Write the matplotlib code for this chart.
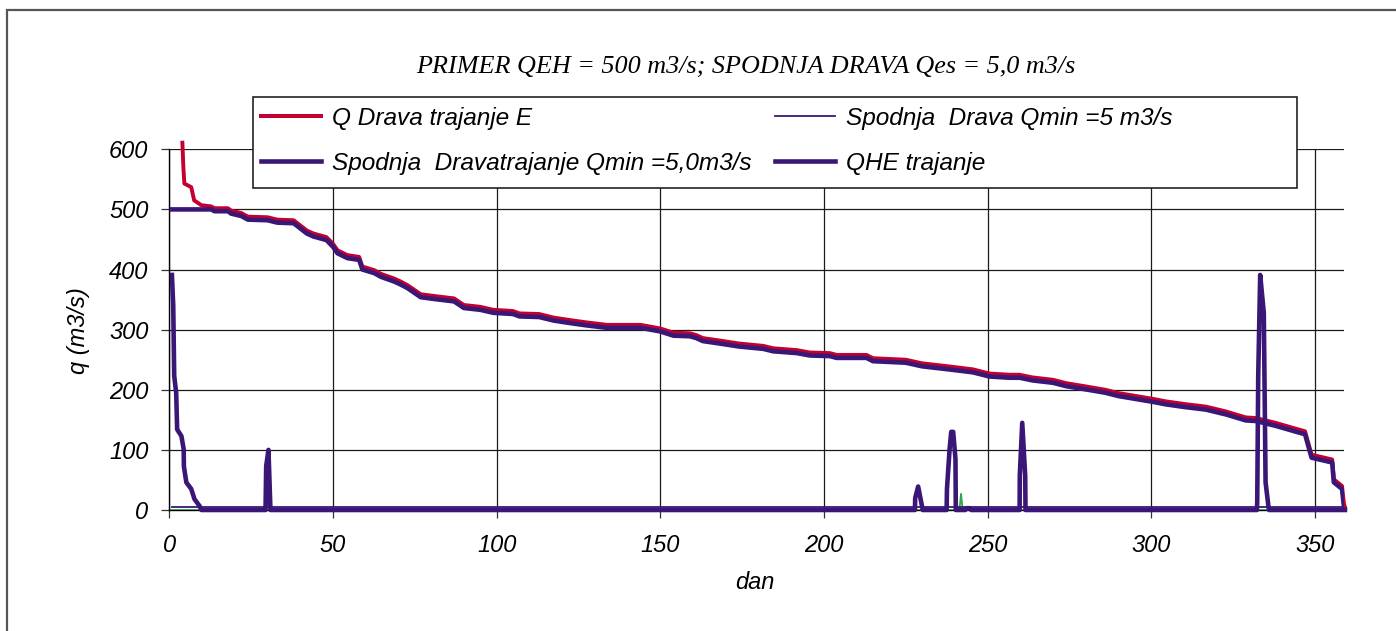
import matplotlib
matplotlib.use("Agg")
import matplotlib.pyplot as plt
from matplotlib.lines import Line2D
from matplotlib.patches import Rectangle
import numpy as np

# ---------------- data ----------------
title = "PRIMER QEH = 500 m3/s; SPODNJA DRAVA Qes = 5,0 m3/s"
QEH = 500.0
QMIN = 5.0

# Q Drava trajanje E (duration curve)
q_days = [4.0, 4.3, 4.6, 6.7, 7.6, 9.8, 12.8, 13.8, 17.9, 18.9, 22, 24, 30, 33, 38,
          42, 44, 48, 50, 51.4, 54.4, 58, 59, 62.6, 64.6, 65.6, 68.7, 70.7, 72.8,
          76.8, 80.9, 87, 90, 95, 99, 105, 107, 113, 117.5, 123.6, 127.6, 133.7,
          144, 150, 154, 159, 161, 163, 168, 174, 181.5, 184.5, 191.7, 195.7,
          201.8, 203.9, 213, 215, 225, 230, 238, 245.5, 250.6, 256.7, 259.8,
          263.8, 270, 274, 280, 286, 290, 296, 300.4, 304.5, 310.6, 316.7, 322.8,
          328.9, 332, 338, 345, 347, 349, 355.3, 355.8, 358.3, 358.9, 359.2]
q_drava = [611, 570, 543, 537, 515, 507, 505, 502, 502, 498, 494, 488, 487, 483, 482,
           465, 460, 454, 443, 432, 424, 421, 405, 399, 393, 391, 385, 380, 374,
           359, 356, 352, 341, 338, 333, 331, 327, 326, 320, 315, 312, 308,
           308, 302, 295, 294, 291, 286, 282, 277, 273, 269, 266, 262,
           261, 258, 258, 252.5, 250, 244, 239, 234, 227, 225, 225,
           220.5, 216.6, 211, 205.6, 200, 194.5, 189, 185, 180.7, 176, 172, 164,
           154, 153, 145, 134, 131, 92, 84, 51, 40, 10, 5]

# Spodnja Drava trajanje Qmin = 5,0 m3/s (overflow series)
s_days = [0.8, 1.2, 1.5, 2.1, 2.4, 3.7, 4.4, 4.45, 5.2, 6.7, 7.7, 9.2, 9.8,
          29.4, 29.6, 30.3, 30.9,
          227.8, 227.9, 228.8, 230.2,
          237.5, 237.6, 238.4, 238.9, 239.5, 240.2, 240.3,
          243.2, 243.6, 244.6, 245.0,
          259.8, 259.85, 260.6, 261.5, 261.6,
          332.3, 332.4, 332.7, 333.3, 334.4, 334.95, 335.8, 336.0, 359.2]
s_vals = [391, 340, 223, 195, 134, 123, 101, 73, 46, 35, 18, 7, 0,
          0, 73, 100, 0,
          0, 20, 39, 0,
          0, 35, 101, 130, 130, 85, 0,
          0, 3, 3, 0,
          0, 57, 145, 57, 0,
          0, 15, 223, 391, 328, 46, 7, 0, 0]

# Spodnja Drava Qmin = 5 m3/s
m_days = [0.8, 359.2]
m_vals = [QMIN, QMIN]

# small green series
g_days = [0.8, 241.4, 241.9, 242.4, 359.2]
g_vals = [0, 0, 27, 0, 0]

x_ticks = [0, 50, 100, 150, 200, 250, 300, 350]
y_ticks = [0, 100, 200, 300, 400, 500, 600]

labels = ["Q Drava trajanje E",
          "Spodnja  Dravatrajanje Qmin =5,0m3/s",
          "Spodnja  Drava Qmin =5 m3/s",
          "QHE trajanje"]

# QHE trajanje: turbine flow limited to QEH
qhe_days = [0.8] + q_days
qhe_vals = [QEH] + list(np.minimum(np.array(q_drava) - QMIN, QEH))

RED = "#C3002F"
PUR = "#3A1677"
GRN = "#2EA84A"

W, H = 1396, 631
fig = plt.figure(figsize=(W / 100, H / 100), dpi=100)
FONT = "Liberation Sans"
FS = 17
LFS = 17.6

ax = fig.add_axes([169.3 / W, 1 - 510 / H, (1344.3 - 169.3) / W, (510 - 149.3) / H])
ax.set_xlim(0, 359)
ax.set_ylim(0, 600)

ax.plot(q_days, q_drava, color=RED, lw=2.8, zorder=3, clip_on=False,
        solid_joinstyle="round")
ax.plot(g_days, g_vals, color=GRN, lw=1.3, zorder=3.5)
ax.plot(m_days, m_vals, color=PUR, lw=1.3, zorder=3.6)
ax.plot(qhe_days, qhe_vals, color=PUR, lw=3.3, zorder=4, solid_joinstyle="round")
ax.plot(s_days, s_vals, color=PUR, lw=3.3, zorder=4.5, solid_joinstyle="round",
        clip_on=False)

ax.set_xticks(x_ticks)
ax.set_yticks(y_ticks)
ax.grid(True, color="#1a1a1a", lw=0.9)
ax.set_axisbelow(True)
for s in ["top", "right"]:
    ax.spines[s].set_visible(False)
for s in ["left", "bottom"]:
    ax.spines[s].set_color("black")
    ax.spines[s].set_linewidth(1.0)
ax.tick_params(axis="both", direction="out", length=6, width=0.9, color="#333333")
ax.tick_params(axis="x", pad=11)
ax.tick_params(axis="y", pad=9)
for lab in ax.get_xticklabels() + ax.get_yticklabels():
    lab.set_fontfamily(FONT)
    lab.set_fontstyle("italic")
    lab.set_fontsize(FS)

fig.text(78 / W, 1 - 331 / H, "q (m3/s)", rotation=90, ha="center", va="center",
         fontfamily=FONT, fontstyle="italic", fontsize=FS)
fig.text(755 / W, 1 - 589 / H, "dan", ha="center", va="baseline",
         fontfamily=FONT, fontstyle="italic", fontsize=FS)
fig.text(746 / W, 1 - 73 / H, title, ha="center", va="baseline",
         fontfamily="Liberation Serif", fontstyle="italic", fontsize=18.8)

# legend box
fig.patches.append(Rectangle((253 / W, 1 - 188 / H), (1297 - 253) / W, (188 - 97) / H,
                             transform=fig.transFigure, facecolor="white",
                             edgecolor="#222222", lw=1.2, zorder=5))
handles = [Line2D([], [], color=RED, lw=2.9),
           Line2D([], [], color=PUR, lw=3.3),
           Line2D([], [], color=PUR, lw=1.3),
           Line2D([], [], color=PUR, lw=3.3)]
leg = fig.legend(handles, labels, loc="upper left",
                 bbox_to_anchor=(261 / W, 1 - 107 / H), ncol=2, frameon=False,
                 prop={"family": FONT, "style": "italic", "size": LFS},
                 handlelength=2.45, handletextpad=0.45, labelspacing=0.88,
                 columnspacing=0.95, borderpad=0, borderaxespad=0)
leg.set_zorder(6)

# outer border
fig.patches.append(Rectangle((7 / W, -0.1), 1.2, (1 - 10 / H) + 0.1,
                             transform=fig.transFigure, fill=False,
                             edgecolor="#555555", lw=1.6, zorder=7))

fig.savefig("out.png", dpi=100)
